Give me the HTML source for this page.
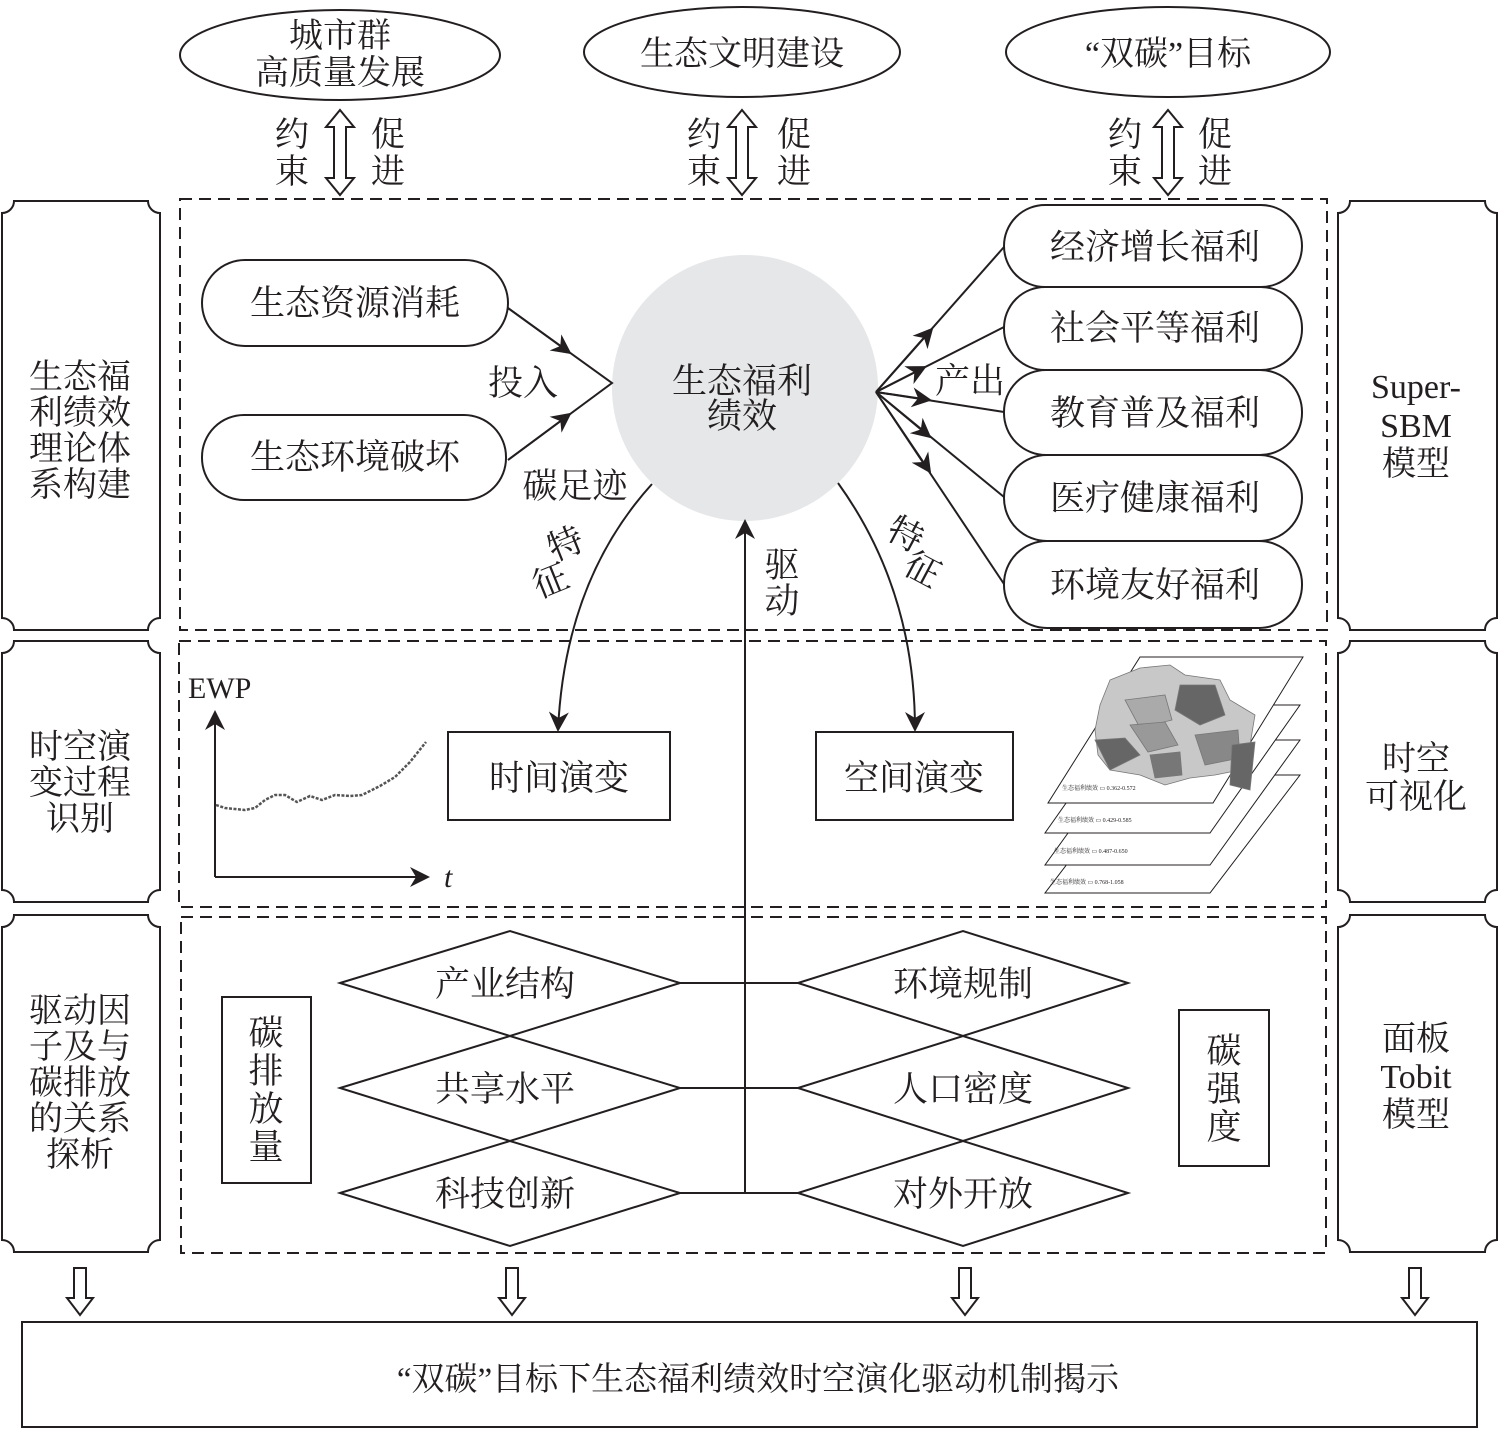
<!DOCTYPE html>
<html><head><meta charset="utf-8"><style>
html,body{margin:0;padding:0;background:#fff}
svg{display:block}
text{font-family:"Liberation Serif","Noto Serif CJK SC",serif;fill:#231f20}
</style></head><body>
<svg width="1500" height="1430" viewBox="0 0 1500 1430" xmlns="http://www.w3.org/2000/svg">
<defs>
<marker id="ahb" viewBox="0 0 10 10" refX="9" refY="5" markerWidth="20" markerHeight="20" markerUnits="userSpaceOnUse" orient="auto"><path d="M0,0 L10,5 L0,10 L3,5 Z" fill="#231f20"/></marker>
</defs>
<g fill="none" stroke="#231f20" stroke-width="2">
<ellipse cx="340" cy="55" rx="160" ry="45"/>
<ellipse cx="742" cy="52" rx="158" ry="45"/>
<ellipse cx="1168" cy="52" rx="162" ry="45"/>
<path d="M340,110 L354,127 L346,127 L346,178 L354,178 L340,195 L326,178 L334,178 L334,127 L326,127 Z"/>
<path d="M742,110 L756,127 L748,127 L748,178 L756,178 L742,195 L728,178 L736,178 L736,127 L728,127 Z"/>
<path d="M1168,110 L1182,127 L1174,127 L1174,178 L1182,178 L1168,195 L1154,178 L1162,178 L1162,127 L1154,127 Z"/>
<path d="M14,201 L148,201 A12,12 0 0 0 160,213 L160,618 A12,12 0 0 0 148,630 L14,630 A12,12 0 0 0 2,618 L2,213 A12,12 0 0 0 14,201 Z"/>
<path d="M14,641 L148,641 A12,12 0 0 0 160,653 L160,890 A12,12 0 0 0 148,902 L14,902 A12,12 0 0 0 2,890 L2,653 A12,12 0 0 0 14,641 Z"/>
<path d="M14,915 L148,915 A12,12 0 0 0 160,927 L160,1240 A12,12 0 0 0 148,1252 L14,1252 A12,12 0 0 0 2,1240 L2,927 A12,12 0 0 0 14,915 Z"/>
<path d="M1350,201 L1485,201 A12,12 0 0 0 1497,213 L1497,618 A12,12 0 0 0 1485,630 L1350,630 A12,12 0 0 0 1338,618 L1338,213 A12,12 0 0 0 1350,201 Z"/>
<path d="M1350,641 L1485,641 A12,12 0 0 0 1497,653 L1497,890 A12,12 0 0 0 1485,902 L1350,902 A12,12 0 0 0 1338,890 L1338,653 A12,12 0 0 0 1350,641 Z"/>
<path d="M1350,915 L1485,915 A12,12 0 0 0 1497,927 L1497,1240 A12,12 0 0 0 1485,1252 L1350,1252 A12,12 0 0 0 1338,1240 L1338,927 A12,12 0 0 0 1350,915 Z"/>
<g stroke-dasharray="12,7">
<rect x="180" y="199" width="1147" height="431"/>
<rect x="179" y="641" width="1147" height="266"/>
<rect x="181" y="917" width="1145" height="336"/>
</g>
</g>
<circle cx="745" cy="388" r="133" fill="#e6e7e9"/>
<g fill="#fff" stroke="#231f20" stroke-width="2">
<rect x="202" y="260" width="306" height="86" rx="43"/>
<rect x="202" y="415" width="304" height="85" rx="42"/>
<rect x="1004" y="541" width="298" height="87" rx="43"/>
<rect x="1004" y="455" width="298" height="86" rx="43"/>
<rect x="1004" y="370" width="298" height="85" rx="42"/>
<rect x="1004" y="287" width="298" height="83" rx="41"/>
<rect x="1004" y="205" width="298" height="82" rx="41"/>
<rect x="448" y="732" width="222" height="88"/>
<rect x="816" y="732" width="197" height="88"/>
<rect x="222" y="997" width="89" height="186"/>
<rect x="1179" y="1010" width="90" height="156"/>
<rect x="22" y="1322" width="1455" height="105"/>
</g>
<g fill="none" stroke="#231f20" stroke-width="2">
<path d="M508,308 L612,383 L508,460"/>
<line x1="508" y1="308" x2="570" y2="353" marker-end="url(#ahb)"/>
<line x1="508" y1="460" x2="570" y2="414" marker-end="url(#ahb)"/>
<line x1="876" y1="392" x2="1004" y2="247"/>
<line x1="876" y1="392" x2="1004" y2="327"/>
<line x1="876" y1="392" x2="1004" y2="412"/>
<line x1="876" y1="392" x2="1004" y2="497"/>
<line x1="876" y1="392" x2="1004" y2="584"/>
<line x1="876" y1="392" x2="932" y2="329" marker-end="url(#ahb)"/>
<line x1="876" y1="392" x2="925" y2="367" marker-end="url(#ahb)"/>
<line x1="876" y1="392" x2="930" y2="400" marker-end="url(#ahb)"/>
<line x1="876" y1="392" x2="930" y2="437" marker-end="url(#ahb)"/>
<line x1="876" y1="392" x2="930" y2="472" marker-end="url(#ahb)"/>
<path d="M652,484 Q565,580 558,730" marker-end="url(#ahb)"/>
<path d="M838,483 Q915,590 915,730" marker-end="url(#ahb)"/>
<line x1="745" y1="1193" x2="745" y2="521" marker-end="url(#ahb)"/>
<line x1="215" y1="877" x2="215" y2="712" marker-end="url(#ahb)"/>
<line x1="215" y1="877" x2="428" y2="877" marker-end="url(#ahb)"/>
<polyline stroke="#555" stroke-width="2.5" stroke-dasharray="3,1.5" points="216,805 225,808 245,810 255,808 265,800 275,795 285,795 297,802 310,796 322,800 335,795 350,796 362,795 380,786 395,777 410,762 426,742"/>
<path d="M340,983 L510,931 L680,983 L510,1036 Z"/>
<path d="M340,1088 L510,1036 L680,1088 L510,1141 Z"/>
<path d="M340,1193 L510,1141 L680,1193 L510,1246 Z"/>
<path d="M798,983 L963,931 L1128,983 L963,1036 Z"/>
<path d="M798,1088 L963,1036 L1128,1088 L963,1141 Z"/>
<path d="M798,1193 L963,1141 L1128,1193 L963,1246 Z"/>
<line x1="680" y1="983" x2="798" y2="983"/>
<line x1="680" y1="1088" x2="798" y2="1088"/>
<line x1="680" y1="1193" x2="798" y2="1193"/>
<path d="M74,1268 L86,1268 L86,1298 L93,1298 L80,1315 L67,1298 L74,1298 Z"/>
<path d="M506,1268 L518,1268 L518,1298 L525,1298 L512,1315 L499,1298 L506,1298 Z"/>
<path d="M959,1268 L971,1268 L971,1298 L978,1298 L965,1315 L952,1298 L959,1298 Z"/>
<path d="M1409,1268 L1421,1268 L1421,1298 L1428,1298 L1415,1315 L1402,1298 L1409,1298 Z"/>
</g>
<g stroke="#231f20" stroke-width="1" fill="#fff">
<path d="M1045,893 L1210,893 L1300,775 L1135,775 Z"/>
<path d="M1045,865 L1210,865 L1300,740 L1135,740 Z"/>
<path d="M1045,833 L1210,833 L1300,705 L1135,705 Z"/>
<path d="M1048,803 L1213,803 L1303,657 L1140,657 Z"/>
</g>
<g stroke="#777" stroke-width="0.8">
<path d="M1110,680 L1140,668 L1170,665 L1185,675 L1220,680 L1230,700 L1255,715 L1250,745 L1240,770 L1215,775 L1190,778 L1165,785 L1140,775 L1110,770 L1098,755 L1095,730 L1100,705 Z" fill="#c8c8c8"/>
<path d="M1180,685 L1215,685 L1225,715 L1200,725 L1175,710 Z" fill="#666"/>
<path d="M1095,740 L1125,738 L1140,755 L1110,770 Z" fill="#666"/>
<path d="M1125,700 L1165,695 L1172,720 L1140,728 Z" fill="#aaa"/>
<path d="M1130,725 L1165,722 L1178,745 L1148,752 Z" fill="#999"/>
<path d="M1195,735 L1238,730 L1240,758 L1205,765 Z" fill="#888"/>
<path d="M1232,745 L1255,742 L1250,790 L1230,785 Z" fill="#666"/>
<path d="M1150,755 L1180,752 L1182,775 L1155,778 Z" fill="#777"/>
</g>
<g fill="#555">
<text x="1062" y="790" style="font-size:6px">生态福利绩效 ▭ 0.362-0.572</text>
<text x="1058" y="822" style="font-size:6px">生态福利绩效 ▭ 0.429-0.585</text>
<text x="1054" y="853" style="font-size:6px">生态福利绩效 ▭ 0.487-0.650</text>
<text x="1050" y="884" style="font-size:6px">生态福利绩效 ▭ 0.768-1.058</text>
</g>
<g font-size="34" text-anchor="middle">
<text x="340" y="47">城市群</text>
<text x="340" y="84">高质量发展</text>
<text x="742" y="65">生态文明建设</text>
<text x="1168" y="65">“双碳”目标</text>
<text x="292" y="146">约</text><text x="292" y="183">束</text>
<text x="388" y="146">促</text><text x="388" y="183">进</text>
<text x="704" y="146">约</text><text x="704" y="183">束</text>
<text x="794" y="146">促</text><text x="794" y="183">进</text>
<text x="1125" y="146">约</text><text x="1125" y="183">束</text>
<text x="1215" y="146">促</text><text x="1215" y="183">进</text>
</g>
<g font-size="35" text-anchor="middle">
<text x="355" y="315">生态资源消耗</text>
<text x="355" y="469">生态环境破坏</text>
<text x="523" y="395">投入</text>
<text x="575" y="498">碳足迹</text>
<text x="742" y="393">生态福利</text>
<text x="742" y="428">绩效</text>
<text x="970" y="393">产出</text>
<text x="1155" y="259">经济增长福利</text>
<text x="1155" y="340">社会平等福利</text>
<text x="1155" y="425">教育普及福利</text>
<text x="1155" y="510">医疗健康福利</text>
<text x="1155" y="597">环境友好福利</text>
<text x="782" y="577">驱</text><text x="782" y="613">动</text>
<text x="559" y="790">时间演变</text>
<text x="914" y="790">空间演变</text>
<text x="505" y="996">产业结构</text>
<text x="505" y="1101">共享水平</text>
<text x="505" y="1206">科技创新</text>
<text x="963" y="996">环境规制</text>
<text x="963" y="1101">人口密度</text>
<text x="963" y="1206">对外开放</text>
<text x="266" y="1045">碳</text><text x="266" y="1083">排</text><text x="266" y="1121">放</text><text x="266" y="1159">量</text>
<text x="1224" y="1063">碳</text><text x="1224" y="1101">强</text><text x="1224" y="1139">度</text>
<text transform="translate(570,555) rotate(-22)">特</text>
<text transform="translate(555,592) rotate(-22)">征</text>
<text transform="translate(900,545) rotate(28)">特</text>
<text transform="translate(917,580) rotate(28)">征</text>
</g>
<text x="758" y="1390" font-size="33" text-anchor="middle">“双碳”目标下生态福利绩效时空演化驱动机制揭示</text>
<g>
<text x="188" y="698" font-size="30">EWP</text>
<text x="444" y="887" font-style="italic" font-size="30">t</text>
</g>
<g font-size="34" text-anchor="middle">
<text x="80" y="388">生态福</text><text x="80" y="424">利绩效</text><text x="80" y="460">理论体</text><text x="80" y="496">系构建</text>
<text x="80" y="758">时空演</text><text x="80" y="794">变过程</text><text x="80" y="830">识别</text>
<text x="80" y="1022">驱动因</text><text x="80" y="1058">子及与</text><text x="80" y="1094">碳排放</text><text x="80" y="1130">的关系</text><text x="80" y="1166">探析</text>
<text x="1416" y="398">Super-</text><text x="1416" y="437">SBM</text><text x="1416" y="475">模型</text>
<text x="1416" y="770">时空</text><text x="1416" y="808">可视化</text>
<text x="1416" y="1050">面板</text><text x="1416" y="1088">Tobit</text><text x="1416" y="1126">模型</text>
</g>
</svg>
</body></html>
